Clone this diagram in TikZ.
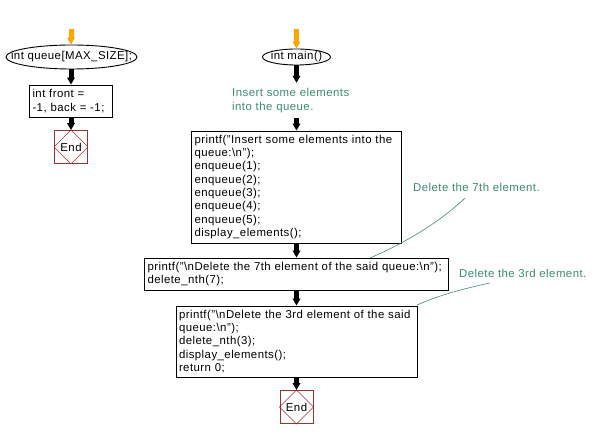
\documentclass[tikz,border=0pt]{standalone}
\usepackage{fontspec}
\setmainfont{Liberation Sans}[LetterSpace=4]
\usetikzlibrary{shapes.geometric,arrows.meta}
\definecolor{cgreen}{HTML}{3C8C6C}
\definecolor{cred}{HTML}{A03030}
\definecolor{corange}{HTML}{FFA500}
\tikzset{
  x=1pt,y=-1pt,
  every node/.style={font=\fontsize{11.4}{13.3}\selectfont},
  term/.style={draw,ellipse,inner sep=0pt,line width=0.9pt},
  stepbox/.style={draw,rectangle,line width=0.9pt,align=left,inner xsep=3pt,inner ysep=0pt},
  endbox/.style={draw=cred,rectangle,line width=0.9pt,minimum size=33pt,inner sep=0pt},
  arr/.style={line width=5pt,-{Triangle[width=7.5pt,length=7pt]}},
  oarr/.style={arr,corange},
  note/.style={text=cgreen,align=left,inner sep=0pt},
  noteline/.style={draw=cgreen,line width=0.6pt}
}
\begin{document}
\begin{tikzpicture}
\useasboundingbox (0,0) rectangle (592,438);
% left column
\coordinate (s1) at (71,29);
\node[term,minimum width=131pt,minimum height=24pt] (q) at (71.5,57) {\makebox[0pt]{int queue[MAX\_SIZE];}};
\node[stepbox,minimum width=83pt,minimum height=32pt,text width=77pt] (fb) at (71,101) {int front =\\-1, back = -1;};
\node[endbox] (e1) at (71,147) {End};
\draw[cred,line width=0.6pt] (e1.north) -- (e1.east) -- (e1.south) -- (e1.west) -- cycle;
\draw[oarr] (s1) -- (s1 |- q.north);
\draw[arr] (q.south -| fb) -- (fb);
\draw[arr] (fb) -- (e1);
% main column
\coordinate (s2) at (296.5,29);
\node[term,minimum width=68pt,minimum height=16pt] (m) at (296.5,57) {\makebox[0pt]{int main()}};
\node[note,anchor=west,text width=140pt,minimum height=35pt] (c) at (232,100.5) {Insert some elements\\into the queue.};
\node[stepbox,minimum width=210pt,minimum height=112pt,text width=204pt] (b1) at (296.5,187) {printf("Insert some elements into the\\queue:\textbackslash n");\\enqueue(1);\\enqueue(2);\\enqueue(3);\\enqueue(4);\\enqueue(5);\\display\_elements();};
\node[stepbox,minimum width=304pt,minimum height=32pt,text width=298pt] (b2) at (296.5,274) {printf("\textbackslash nDelete the 7th element of the said queue:\textbackslash n");\\delete\_nth(7);};
\node[stepbox,minimum width=241pt,minimum height=71pt,text width=235pt] (b3) at (296.5,341.5) {printf("\textbackslash nDelete the 3rd element of the said\\queue:\textbackslash n");\\delete\_nth(3);\\display\_elements();\\return 0;};
\node[endbox] (e2) at (296.5,407) {End};
\draw[cred,line width=0.6pt] (e2.north) -- (e2.east) -- (e2.south) -- (e2.west) -- cycle;
\draw[oarr] (s2) -- (m);
\draw[arr] (m) -- (m.south |- c.north);
\draw[arr] (m.south |- c.south) -- (b1);
\draw[arr] (b1) -- (b2);
\draw[arr] (b2) -- (b3);
\draw[arr] (b3) -- (e2);
% annotations
\node[note,anchor=base west] (n1) at (413,192) {Delete the 7th element.};
\node[note,anchor=base west] (n2) at (459,278) {Delete the 3rd element.};
\coordinate (n1a) at (465,198);
\coordinate (n1b) at (370,258);
\coordinate (n2a) at (490,283);
\coordinate (n2b) at (417,305);
\draw[noteline] (n1a) .. controls (440,222) and (405,243) .. (n1b);
\draw[noteline] (n2a) .. controls (462,289) and (440,295) .. (n2b);
\end{tikzpicture}
\end{document}
